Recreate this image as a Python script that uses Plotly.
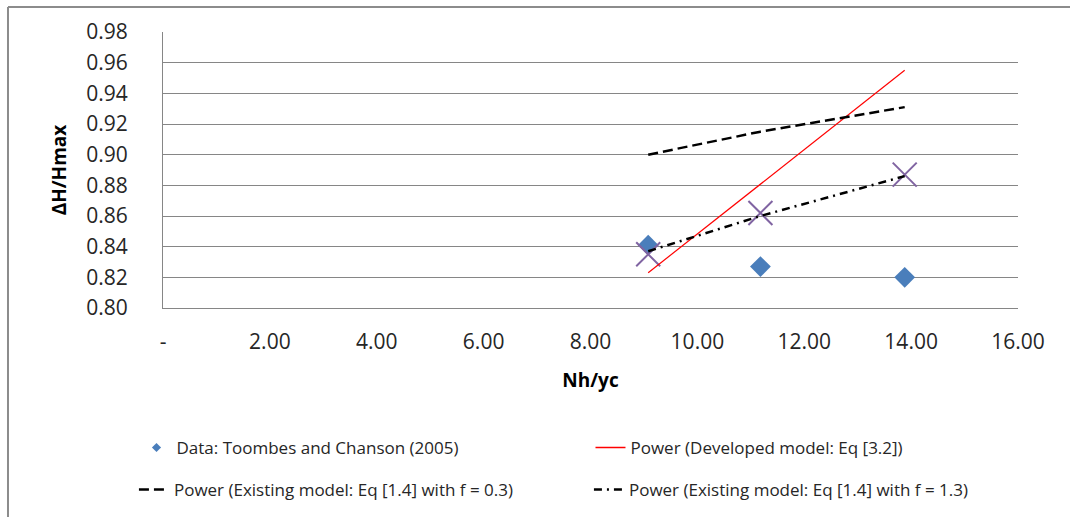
import plotly.graph_objects as go

# Data
nh_yc = [9.08, 11.18, 13.88]
data_toombes = [0.841, 0.827, 0.820]
existing_f13_points = [0.835, 0.862, 0.887]
developed_power = [0.823, 0.881, 0.955]
existing_f03_power = [0.900, 0.915, 0.931]
existing_f13_power = [0.837, 0.860, 0.886]

y_ticks = [0.80, 0.82, 0.84, 0.86, 0.88, 0.90, 0.92, 0.94, 0.96, 0.98]
x_ticks = [0, 2, 4, 6, 8, 10, 12, 14, 16]
x_tick_labels = ["-", "2.00", "4.00", "6.00", "8.00", "10.00", "12.00", "14.00", "16.00"]

FONT = "Open Sans"
TXT = "#262626"

fig = go.Figure()

# data markers (legend shown via small dummy)
fig.add_trace(go.Scatter(x=nh_yc, y=data_toombes, mode="markers",
                         marker=dict(symbol="diamond", size=16, color="#4A7EBB"),
                         showlegend=False, hoverinfo="x+y"))
fig.add_trace(go.Scatter(x=nh_yc, y=existing_f13_points, mode="markers",
                         marker=dict(symbol="x-thin", size=24, color="#8064A2",
                                     line=dict(width=2, color="#8064A2")),
                         showlegend=False))
fig.add_trace(go.Scatter(x=nh_yc, y=developed_power, mode="lines",
                         line=dict(color="#FF0000", width=1.2),
                         showlegend=False))
fig.add_trace(go.Scatter(x=nh_yc, y=existing_f03_power, mode="lines",
                         line=dict(color="black", width=2.5, dash="10px,5px"),
                         showlegend=False))
fig.add_trace(go.Scatter(x=nh_yc, y=existing_f13_power, mode="lines",
                         line=dict(color="black", width=2.5, dash="8px,5px,2px,5px"),
                         showlegend=False))

# legend entries
fig.add_trace(go.Scatter(x=[None], y=[None], mode="markers", name="Data: Toombes and Chanson (2005)",
                         marker=dict(symbol="diamond", size=7, color="#4A7EBB"), legend="legend"))
fig.add_trace(go.Scatter(x=[None], y=[None], mode="lines", name="Power (Developed model: Eq [3.2])",
                         line=dict(color="#FF0000", width=1.5), legend="legend"))
fig.add_trace(go.Scatter(x=[None], y=[None], mode="lines", name="Power (Existing model: Eq [1.4] with f = 0.3)",
                         line=dict(color="black", width=2.5, dash="10px,5px"), legend="legend2"))
fig.add_trace(go.Scatter(x=[None], y=[None], mode="lines", name="Power (Existing model: Eq [1.4] with f = 1.3)",
                         line=dict(color="black", width=2.5, dash="8px,5px,2px,5px"), legend="legend2"))

legend_common = dict(orientation="h", xanchor="left", yanchor="middle",
                     font=dict(family=FONT, size=17, color=TXT),
                     entrywidthmode="pixels", itemsizing="trace",
                     bgcolor="rgba(0,0,0,0)")

fig.update_layout(
    width=1070, height=517,
    margin=dict(l=163, r=52, t=32, b=209, autoexpand=False),
    paper_bgcolor="white", plot_bgcolor="white",
    font=dict(family=FONT, color=TXT),
    showlegend=True,
    legend=dict(x=-0.031, y=-0.507, entrywidth=409, **legend_common),
    legend2=dict(x=-0.034, y=-0.659, entrywidth=410, **legend_common),
    xaxis=dict(range=[0, 16], tickvals=x_ticks, ticktext=x_tick_labels,
               showgrid=False, zeroline=False, showline=True, linecolor="#868686", linewidth=1,
               ticks="", tickfont=dict(family=FONT, size=21, color=TXT), ticklabelstandoff=15,
               title=dict(text="<b>Nh/yc</b>", font=dict(family=FONT, size=19, color="black"), standoff=19)),
    yaxis=dict(range=[0.80, 0.98], tickvals=y_ticks, tickformat=".2f",
               showgrid=True, gridcolor="#868686", gridwidth=1, zeroline=False,
               showline=True, linecolor="#868686", linewidth=1, ticks="",
               tickfont=dict(family=FONT, size=21, color=TXT), ticklabelstandoff=30,
               title=dict(text="<b>ΔH/Hmax</b>", font=dict(family=FONT, size=19, color="black"), standoff=14)),
    shapes=[
        dict(type="line", xref="paper", yref="paper", x0=-0.1813, x1=1.07, y0=1.0906, y1=1.0906,
             line=dict(color="#8c8c8c", width=2)),
        dict(type="line", xref="paper", yref="paper", x0=-0.1813, x1=-0.1813, y0=1.0906, y1=-0.78,
             line=dict(color="#8c8c8c", width=2)),
    ],
)

fig.write_html("out.html")
